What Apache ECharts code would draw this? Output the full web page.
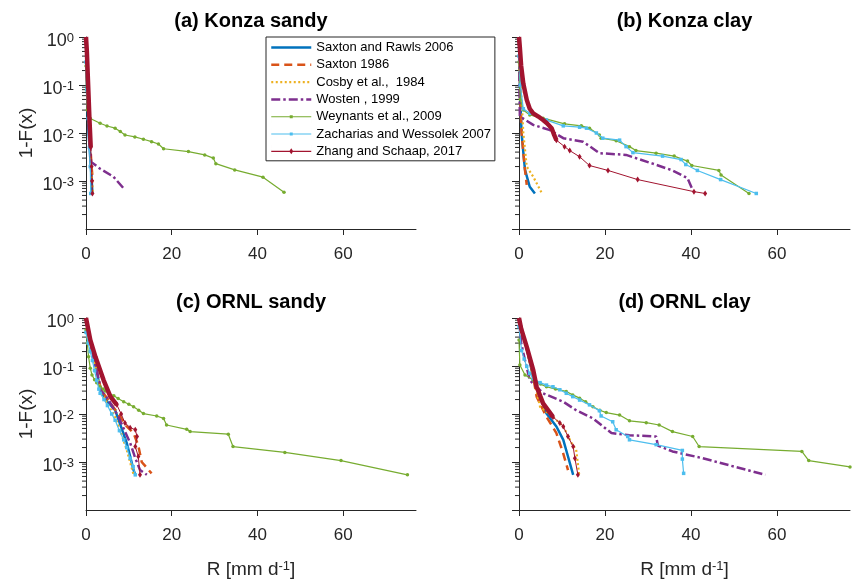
<!DOCTYPE html>
<html><head><meta charset="utf-8">
<script src="https://cdn.jsdelivr.net/npm/echarts@6/dist/echarts.min.js"></script>
<style>html,body{margin:0;padding:0;background:#fff}#c{width:852px;height:581px}</style>
</head><body><div id="c"></div>
<script>
// ---------- names / ticks ----------
const seriesNames = ['Saxton and Rawls 2006','Saxton 1986','Cosby et al.,  1984','Wosten , 1999','Weynants et al., 2009','Zacharias and Wessolek 2007','Zhang and Schaap, 2017'];
const panelTitles = ['(a) Konza sandy','(b) Konza clay','(c) ORNL sandy','(d) ORNL clay'];
const xTicks = [0,20,40,60];
const yMinorTicks = [2e-4,3e-4,4e-4,5e-4,6e-4,7e-4,8e-4,9e-4,2e-3,3e-3,4e-3,5e-3,6e-3,7e-3,8e-3,9e-3,0.02,0.03,0.04,0.05,0.06,0.07,0.08,0.09,0.2,0.3,0.4,0.5,0.6,0.7,0.8,0.9];

// ---------- (a) Konza sandy : [R, 1-F(x)] ----------
const kS_saxtonRawls = [[0,1],[0.1,0.3],[0.3,0.05],[0.6,0.01],[1.0,0.003],[1.3,0.0012],[1.5,0.00055]];
const kS_saxton86 = [[0,1],[0.2,0.2],[0.5,0.03],[0.9,0.008],[1.3,0.002],[1.6,0.001]];
const kS_cosby = [[0,1],[0.2,0.2],[0.5,0.03],[0.9,0.006],[1.3,0.0015],[1.6,0.0006]];
const kS_wosten = [[0,1],[0.2,0.2],[0.5,0.03],[0.9,0.006],[1.2,0.0025],[3.3,0.0018],[6.4,0.00123],[9.1,0.00065]];
const kS_weynants = [[0,0.25],[0.1,0.08],[0.3,0.03],[1.0,0.020],[3.3,0.016],[4.9,0.014],[6.8,0.0126],[8.0,0.0107],[9.1,0.0091],[11.4,0.0083],[13.4,0.0074],[15.3,0.0066],[16.9,0.0059],[18.1,0.0047],[23.9,0.0041],[27.7,0.0035],[29.7,0.0030],[30.3,0.0023],[34.7,0.0017],[41.3,0.0012],[46.2,0.00058]];
const kS_zacharias = [[0,0.3],[0.2,0.08],[0.5,0.02],[0.8,0.005],[1.0,0.002],[1.1,0.00055]];
const kS_zhangHead = [[0,1],[0.2,0.5],[0.5,0.1],[0.8,0.02],[1.1,0.005]];
const kS_zhangTail = [[1.1,0.005],[1.3,0.002],[1.4,0.001],[1.5,0.00055]];

// ---------- (b) Konza clay ----------
const kC_saxtonRawls = [[0,1],[0.1,0.3],[0.3,0.05],[0.6,0.01],[1.0,0.004],[1.4,0.0017],[2.5,0.00076],[3.7,0.00055]];
const kC_saxton86 = [[0,1],[0.1,0.3],[0.3,0.05],[0.6,0.01],[1.0,0.004],[1.3,0.002],[1.8,0.00083]];
const kC_cosby = [[0,1],[0.2,0.2],[0.6,0.049],[1.0,0.01],[1.8,0.002],[3.3,0.00123],[5.2,0.00058]];
const kC_wosten = [[0,1],[0.1,0.1],[0.2,0.022],[3.3,0.0148],[7.2,0.0115],[10.3,0.0078],[14.9,0.0066],[18.7,0.0038],[24.9,0.0035],[31.1,0.0023],[35.7,0.00166],[39.2,0.00115],[40.4,0.00065]];
const kC_weynants = [[0,0.3],[0.3,0.05],[1.0,0.03],[2.5,0.0237],[5.6,0.0204],[10.6,0.0155],[14.5,0.0141],[16.4,0.0126],[18.7,0.0091],[19.1,0.0078],[22.6,0.0069],[25.7,0.0052],[27.2,0.0043],[31.9,0.0038],[36.1,0.0033],[39.2,0.0026],[40.2,0.0021],[46.5,0.00166],[47.0,0.00133],[53.5,0.00055]];
const kC_zacharias = [[0,0.4],[0.3,0.1],[1.0,0.032],[2.5,0.0257],[6.4,0.0186],[10.3,0.0141],[14.1,0.0132],[15.7,0.0126],[18.0,0.0100],[19.5,0.0078],[23.4,0.0071],[24.9,0.0052],[26.5,0.0039],[33.4,0.0033],[37.7,0.0028],[38.8,0.0022],[41.5,0.00166],[46.9,0.00107],[55.2,0.00055]];
const kC_zhangHead = [[0,1],[0.2,0.6],[0.5,0.25],[1.0,0.107],[1.8,0.049],[2.5,0.032],[3.3,0.0257],[4.5,0.022],[5.6,0.0186],[6.5,0.016],[7.6,0.0126],[8.2,0.009],[8.7,0.0071]];
const kC_zhangTail = [[8.7,0.0071],[10.6,0.0052],[11.8,0.0043],[14.1,0.0032],[16.4,0.0021],[20.7,0.00166],[27.6,0.00107],[40.7,0.0006],[43.3,0.00055]];

// ---------- (c) ORNL sandy ----------
const oS_saxtonRawls = [[0,1],[0.5,0.5],[1.5,0.2],[2.5,0.08],[3.3,0.032],[5.0,0.018],[6.8,0.012],[8.0,0.006],[9.5,0.0025],[11.1,0.00068],[11.5,0.00054]];
const oS_saxton86 = [[0,1],[0.5,0.5],[1.5,0.2],[2.5,0.08],[3.5,0.032],[5.5,0.018],[8.0,0.0087],[9.5,0.0055],[11.1,0.004],[12.2,0.0022],[13.0,0.001],[14.5,0.0007],[15.3,0.00058]];
const oS_cosby = [[0,1],[0.5,0.5],[1.5,0.2],[2.5,0.08],[3.3,0.032],[5.0,0.016],[6.5,0.01],[8.0,0.0045],[9.5,0.0018],[11.1,0.00054]];
const oS_wosten = [[0,1],[0.5,0.5],[1.5,0.2],[2.5,0.08],[3.5,0.032],[5.5,0.018],[7.6,0.0087],[9.0,0.0045],[10.3,0.0025],[11.5,0.0012],[12.6,0.00068],[14.2,0.00054]];
const oS_weynants = [[0,0.56],[0.3,0.3],[0.6,0.155],[1.0,0.09],[1.4,0.065],[2.0,0.052],[2.5,0.045],[3.3,0.037],[4.0,0.033],[4.5,0.03],[5.3,0.027],[6.5,0.024],[7.5,0.021],[8.8,0.018],[10.0,0.016],[11.1,0.0141],[12.3,0.012],[13.4,0.0102],[16.5,0.0091],[18.1,0.0081],[18.8,0.0059],[23.5,0.0048],[24.3,0.0043],[33.2,0.0038],[34.3,0.0021],[46.4,0.00158],[59.5,0.00107],[75.0,0.00054]];
const oS_zacharias = [[0,0.5],[0.5,0.3],[1.0,0.2],[1.5,0.13],[2.0,0.08],[2.5,0.05],[3.0,0.033],[3.3,0.027],[4.2,0.02],[5.0,0.015],[6.0,0.01],[6.8,0.0074],[7.8,0.0045],[8.8,0.0029],[9.5,0.002],[10.3,0.0012],[11.0,0.0008],[11.5,0.00054]];
const oS_zhangHead = [[0,1],[1.0,0.35],[2.2,0.155],[4.1,0.051],[5.7,0.023],[7.2,0.0155]];
const oS_zhangTail = [[7.2,0.0155],[8.2,0.01],[9.1,0.0065],[10.3,0.0052],[11.5,0.0047],[11.9,0.0034],[11.5,0.0021],[12.2,0.0013],[12.6,0.00054]];

// ---------- (d) ORNL clay ----------
const oC_saxtonRawls = [[0,1],[1.5,0.3],[3.3,0.06],[4.9,0.023],[6.4,0.0102],[8.7,0.0055],[10.3,0.0029],[11.4,0.0013],[12.6,0.00054]];
const oC_saxton86 = [[0,1],[1.5,0.3],[3.3,0.06],[4.1,0.023],[6.4,0.0087],[8.7,0.004],[10.3,0.0015],[11.4,0.00068]];
const oC_cosby = [[0,1],[1.5,0.3],[3.3,0.06],[4.9,0.0141],[7.9,0.0087],[10.3,0.0055],[12.2,0.0025],[13.3,0.0018],[14.0,0.00054]];
const oC_wosten = [[0,1],[0.5,0.3],[1.5,0.12],[2.5,0.051],[5.6,0.027],[10.3,0.018],[13.3,0.012],[17.2,0.0081],[21.5,0.004],[25.7,0.0036],[31.9,0.0034],[32.3,0.0022],[35.7,0.00166],[42.7,0.0012],[57.3,0.00054]];
const oC_weynants = [[0,0.35],[0.2,0.105],[1.4,0.065],[3.3,0.051],[5.0,0.042],[6.4,0.037],[8.5,0.033],[11.0,0.0295],[12.5,0.025],[14.1,0.0214],[15.5,0.018],[17.2,0.0141],[18.8,0.012],[20.3,0.0107],[23.4,0.0095],[25.7,0.0072],[29.6,0.0066],[32.6,0.0059],[35.7,0.0043],[40.4,0.0034],[41.9,0.0021],[65.8,0.00166],[67.4,0.00107],[77,0.00079]];
const oC_zacharias = [[0,0.66],[0.6,0.21],[1.2,0.14],[1.8,0.098],[2.5,0.07],[3.3,0.055],[4.9,0.045],[6.4,0.04],[7.9,0.037],[9.5,0.032],[11.0,0.027],[12.5,0.023],[14.1,0.0195],[16.4,0.0155],[18.7,0.0117],[19.1,0.0091],[21.8,0.0069],[22.6,0.0047],[25.3,0.0034],[25.7,0.0029],[31.9,0.0023],[38.0,0.00174],[38.0,0.00115],[38.3,0.00058]];
const oC_zhangHead = [[0,1],[0.5,0.6],[1.8,0.25],[3.3,0.083],[4.1,0.037],[5.6,0.0166],[7.9,0.0087]];
const oC_zhangTail = [[7.9,0.0087],[9.5,0.0065],[10.3,0.0055],[11.4,0.0034],[12.6,0.0021],[13.0,0.0012],[13.7,0.00054]];

const panels = [
  [kS_saxtonRawls,kS_saxton86,kS_cosby,kS_wosten,kS_weynants,kS_zacharias,kS_zhangHead,kS_zhangTail],
  [kC_saxtonRawls,kC_saxton86,kC_cosby,kC_wosten,kC_weynants,kC_zacharias,kC_zhangHead,kC_zhangTail],
  [oS_saxtonRawls,oS_saxton86,oS_cosby,oS_wosten,oS_weynants,oS_zacharias,oS_zhangHead,oS_zhangTail],
  [oC_saxtonRawls,oC_saxton86,oC_cosby,oC_wosten,oC_weynants,oC_zacharias,oC_zhangHead,oC_zhangTail]
];

// ---------- styling ----------
const FONT = 'Liberation Sans, Arial, Helvetica, sans-serif';
const AX = '#262626';
const colors = ['#0072BD','#D95319','#EDB120','#7E2F8E','#77AC30','#4DBEEE','#A2142F'];
const styles = [
  {lineStyle:{width:2.5,type:'solid'}, symbol:'none'},
  {lineStyle:{width:2.5,type:[8,5]}, symbol:'none'},
  {lineStyle:{width:2.2,type:[2,2.5]}, symbol:'none'},
  {lineStyle:{width:2.5,type:[9,3,2.5,3]}, symbol:'none'},
  {lineStyle:{width:1.2}, symbol:'circle', symbolSize:3.5},
  {lineStyle:{width:1.2}, symbol:'rect', symbolSize:3.5},
  {lineStyle:{width:4.5}, symbol:'none'},
  {lineStyle:{width:1}, symbol:'diamond', symbolSize:[4,6]}
];
const grids = [
  {left:86, top:37, width:330, height:192},
  {left:519, top:37, width:331, height:192},
  {left:86, top:318, width:330, height:192},
  {left:519, top:318, width:331, height:192}
];

const chart = echarts.init(document.getElementById('c'), null, {renderer:'canvas'});
const xAxes = [], yAxes = [], series = [], graphics = [];
grids.forEach((g, gi) => {
  const bottomRow = gi >= 2, leftCol = gi % 2 === 0;
  xAxes.push({
    type:'value', gridIndex:gi, min:0, max:77,
    axisLine:{show:true, lineStyle:{color:AX, width:1}},
    axisTick:{show:true, length:6, customValues:xTicks, lineStyle:{color:AX}},
    axisLabel:{customValues:xTicks, fontSize:17, color:AX, fontFamily:FONT, margin:17},
    splitLine:{show:false},
    name: bottomRow ? 'R [mm d{s|-1}]' : '',
    nameLocation:'middle', nameGap:50,
    nameTextStyle:{fontSize:19, color:AX, fontFamily:FONT, rich:{s:{fontSize:13, verticalAlign:'top', color:AX, fontFamily:FONT}}}
  });
  yAxes.push({
    type:'log', logBase:10, gridIndex:gi, min:1e-4, max:1,
    axisLine:{show:true, lineStyle:{color:AX, width:1}},
    axisTick:{show:true, length:7, lineStyle:{color:AX}},
    axisLabel:{show:leftCol, showMinLabel:false, margin:12, color:AX, fontFamily:FONT,
      formatter:(v)=>'{b|10}{s|' + Math.round(Math.log10(v)) + '}',
      rich:{
        b:{fontSize:18, padding:[9,0,0,0], verticalAlign:'top', color:AX, fontFamily:FONT},
        s:{fontSize:13, padding:[8,0,0,0], verticalAlign:'top', color:AX, fontFamily:FONT}
      }},
    splitLine:{show:false}, minorTick:{show:false},
    name: leftCol ? '1-F(x)' : '', nameLocation:'middle', nameGap:50,
    nameTextStyle:{fontSize:19, color:AX, fontFamily:FONT}
  });
  panels[gi].forEach((d, si) => {
    const ci = Math.min(si, 6);
    series.push(Object.assign({
      type:'line', name:seriesNames[ci], xAxisIndex:gi, yAxisIndex:gi,
      data:d, color:colors[ci], itemStyle:{color:colors[ci]}, silent:true,
      animation:false, z: 2 + si
    }, JSON.parse(JSON.stringify(styles[si])), {lineStyle:Object.assign({color:colors[ci]}, styles[si].lineStyle)}));
  });
  series.push({
    type:'custom', name:'minorTicks', xAxisIndex:gi, yAxisIndex:gi, silent:true, clip:false,
    data: yMinorTicks.map(v => [0, v]),
    renderItem:(params, api) => {
      const p = api.coord([0, api.value(1)]);
      return {type:'line', shape:{x1:p[0]-4, y1:p[1], x2:p[0], y2:p[1]}, style:{stroke:AX, lineWidth:1}};
    }
  });
  graphics.push({
    type:'text', x: g.left + g.width/2, y: g.top - 16,
    style:{text:panelTitles[gi], font:'bold 20px ' + FONT, fill:'#000', textAlign:'center', textVerticalAlign:'middle'}
  });
});

const lineOnly = (i, w) => ({name:seriesNames[i], itemStyle:{opacity:0}, lineStyle:{width:w}});
const legendData = [
  lineOnly(0, 2.5), lineOnly(1, 2.5), lineOnly(2, 2.2), lineOnly(3, 2.5),
  {name:seriesNames[4], icon:'path://M0,0h0.01v13h-0.01z M40,0h0.01v13h-0.01z M0,6h40v1h-40z M18.5,5h3v3h-3z'},
  {name:seriesNames[5], icon:'path://M0,0h0.01v13h-0.01z M40,0h0.01v13h-0.01z M0,6h40v1h-40z M18.5,5h3v3h-3z'},
  {name:seriesNames[6], icon:'path://M0,0h0.01v13h-0.01z M40,0h0.01v13h-0.01z M0,6h40v1.2h-40z M20,3.5L22,6.5L20,9.5L18,6.5z'}
];

chart.setOption({
  animation:false,
  backgroundColor:'#fff',
  grid:grids,
  xAxis:xAxes, yAxis:yAxes, series:series,
  legend:{
    left:266, top:37, orient:'vertical', itemWidth:40, itemHeight:13, itemGap:4.3,
    padding:[4,4,3,4], borderColor:AX, borderWidth:1, backgroundColor:'#fff',
    textStyle:{fontSize:13, color:'#000', fontFamily:FONT}, selectedMode:false,
    data:legendData
  },
  graphic:graphics
});
</script></body></html>
